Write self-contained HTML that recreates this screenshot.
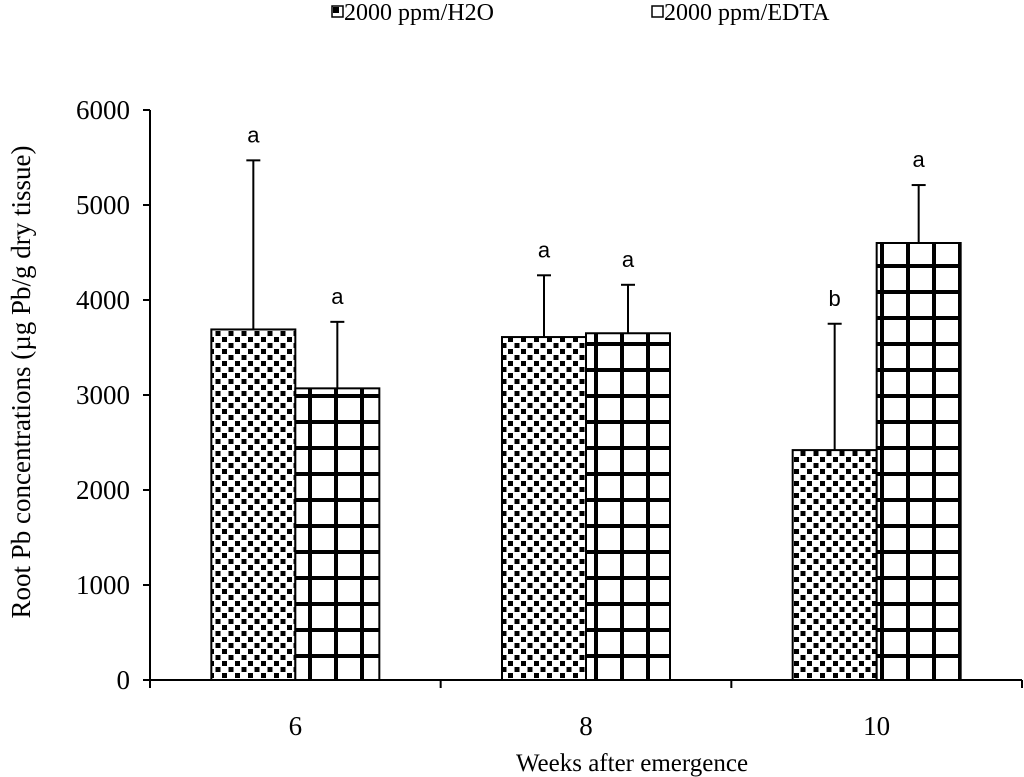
<!DOCTYPE html>
<html><head><meta charset="utf-8"><style>
body{margin:0;background:#fff}
svg{display:block;font-family:"Liberation Serif",serif}
</style></head><body>
<svg id="chart" width="1024" height="777" viewBox="0 0 1024 777" xmlns="http://www.w3.org/2000/svg">
<defs>
<pattern id="dots" width="13" height="12" patternUnits="userSpaceOnUse">
<rect width="13" height="12" fill="#fff"/><rect x="1" y="1" width="5" height="5" fill="#000"/><rect x="7.5" y="7" width="5" height="5" fill="#000"/>
</pattern>
<pattern id="grid" x="880" y="680" width="26" height="26" patternUnits="userSpaceOnUse">
<rect width="26" height="26" fill="#fff"/><rect x="0" y="0" width="4" height="26" fill="#000"/><rect x="0" y="0" width="26" height="4" fill="#000"/>
</pattern>
</defs>
<g id="legend">
<g>
<rect x="332" y="6" width="11" height="11" fill="#fff" stroke="#000" stroke-width="1.5"/><rect x="333" y="7" width="6" height="6" fill="#000"/>
<text x="344" y="20" font-size="24">2000 ppm/H2O</text></g>
<g>
<rect x="652" y="6" width="11" height="11" fill="#fff" stroke="#000" stroke-width="1.5"/>
<text x="664" y="20" font-size="24">2000 ppm/EDTA</text></g>
</g>
<text transform="translate(30,382) rotate(-90)" text-anchor="middle" font-size="27">Root Pb concentrations (µg Pb/g dry tissue)</text>
<text x="632" y="771" text-anchor="middle" font-size="25">Weeks after emergence</text>
<g id="axes"></g>
<g id="bars"></g>
</svg>
<script>
const categories=["6","8","10"];
const h2oValues=[3690,3610,2420];
const edtaValues=[3070,3650,4600];
const h2oErrTop=[5470,4260,3750];
const edtaErrTop=[3770,4160,5210];
const h2oLetters=["a","a","b"];
const edtaLetters=["a","a","a"];
const yTicks=[0,1000,2000,3000,4000,5000,6000];
const NS="http://www.w3.org/2000/svg";
const x0=150,x1=1022,y0=680,yTop=110,yMax=6000;
const y=v=>y0-(v/yMax)*(y0-yTop);
const bw=(x1-x0)/categories.length;
const cx=i=>x0+bw*(i+0.5);
function mk(tag,attrs,parent,text){const e=document.createElementNS(NS,tag);for(const k in attrs)e.setAttribute(k,attrs[k]);if(text!==undefined)e.textContent=text;parent.appendChild(e);return e;}
const ax=document.getElementById('axes'),bars=document.getElementById('bars');
let e=mk('line',{x1:x0,y1:yTop,x2:x0,y2:y0+7,stroke:'#000','stroke-width':2},ax);


e=mk('line',{x1:x0,y1:y0,x2:x1,y2:y0,stroke:'#000','stroke-width':2},ax);


yTicks.forEach(t=>{
 mk('line',{x1:x0-7,y1:y(t),x2:x0,y2:y(t),stroke:'#000','stroke-width':2},ax);
 e=mk('text',{x:x0-20,y:y(t)+9,'text-anchor':'end','font-size':27},ax,String(t));
 
 
});
for(let i=0;i<=categories.length;i++)mk('line',{x1:x0+bw*i,y1:y0,x2:x0+bw*i,y2:y0+8,stroke:'#000','stroke-width':2},ax);
const barW=84;
categories.forEach((c,i)=>{
 e=mk('text',{x:cx(i),y:y0+55,'text-anchor':'middle','font-size':27},ax,c);
 
 
 const sets=[[h2oValues,h2oErrTop,h2oLetters,'url(#dots)',cx(i)-barW,'h2o'],[edtaValues,edtaErrTop,edtaLetters,'url(#grid)',cx(i),'edta']];
 sets.forEach(([vals,err,let_,fill,bx,nm])=>{
  const mid=bx+barW/2;
  mk('line',{x1:mid,y1:y(vals[i]),x2:mid,y2:y(err[i]),stroke:'#000','stroke-width':2},bars);
  mk('line',{x1:mid-7,y1:y(err[i]),x2:mid+7,y2:y(err[i]),stroke:'#000','stroke-width':2},bars);
  e=mk('rect',{x:bx,y:y(vals[i]),width:barW,height:y0-y(vals[i]),fill:fill,stroke:'#000','stroke-width':2},bars);
  
  
  e=mk('text',{x:mid,y:y(err[i])-18,'text-anchor':'middle','font-size':22,'font-family':'Liberation Sans, sans-serif'},bars,let_[i]);
  
  
 });
});
</script>
</body></html>
